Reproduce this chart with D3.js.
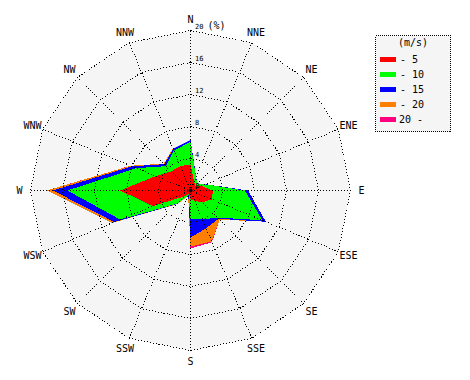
<!DOCTYPE html>
<html><head><meta charset="utf-8">
<script src="https://cdn.jsdelivr.net/npm/d3@7"></script>
<style>
body{margin:0;background:#fff}
svg{display:block}
text{font-family:"DejaVu Sans Mono","Liberation Mono",monospace;fill:#000}
</style>
</head><body>
<svg id="chart" width="470" height="380"></svg>
<script>
// ---- data (frequency %, per speed class) ----
const directions = ["N","NNE","NE","ENE","E","ESE","SE","SSE","S","SSW","SW","WSW","W","WNW","NW","NNW"];
const speedClasses = ["- 5","- 10","- 15","- 20","20 -"];
const classColors = ["#ff0000","#00ff00","#0000ff","#ff8000","#ff0080"];
const upTo5   = [3.25,1.2,0.8,1.5,2.8,2.9,2.1,1.4,1.1,0.5,1.0,5.1,8.8,4.7,3.4,3.3];
const upTo10  = [2.85,0.6,0.4,0.5,4.0,6.8,2.7,2.5,2.4,0.15,1.3,4.4,6.6,2.6,0.9,2.1];
const upTo15  = [0.2,0.05,0,0.05,0.4,0.5,0.2,1.2,2.4,0.05,0.1,0.8,1.8,0.6,0.35,0.2];
const upTo20  = [0.05,0,0,0,0,0,0.15,1.8,1.1,0.05,0.05,0.3,0.75,0.2,0.1,0.1];
const over20  = [0,0,0,0,0,0,0,0.1,0.25,0,0,0,0.05,0,0,0];
const ringTicks = [4,8,12,16,20];
const unitLabel = "(%)";
const legendTitle = "(m/s)";

const series = [upTo5, upTo10, upTo15, upTo20, over20];

// ---- layout ----
const svg = d3.select("#chart");
const cx = 190.5, cy = 190.5, R = 160;
const r = d3.scaleLinear().domain([0, 20]).range([0, R]);
const ang = d3.scaleLinear().domain([0, directions.length]).range([0, 2 * Math.PI]);

const g = svg.append("g").attr("transform", `translate(${cx},${cy})`);

// cumulative stacks
const cumulative = series.map((s, k) => directions.map((d, i) => d3.sum(series.slice(0, k + 1), a => a[i])));

const radial = d3.lineRadial()
  .angle((d, i) => ang(i))
  .radius(d => r(d))
  .curve(d3.curveLinearClosed);

// background
g.append("path")
  .attr("d", radial(directions.map(() => 20)))
  .attr("fill", "#f5f5f5");

// data polygons, outermost first
for (let k = series.length - 1; k >= 0; k--) {
  g.append("path")
    .attr("d", radial(cumulative[k]))
    .attr("fill", classColors[k])
    .attr("stroke", "none")
    .attr("shape-rendering", "crispEdges");
}

// grid rings
ringTicks.forEach(t => {
  g.append("path")
    .attr("d", radial(directions.map(() => t)))
    .attr("fill", "none")
    .attr("stroke", "#000")
    .attr("stroke-width", 1)
    .attr("stroke-dasharray", "1,2")
    .attr("shape-rendering", "crispEdges");
});

// spokes
directions.forEach((d, i) => {
  const a = ang(i);
  g.append("line")
    .attr("x1", 0).attr("y1", 0)
    .attr("x2", r(20) * Math.sin(a))
    .attr("y2", -r(20) * Math.cos(a))
    .attr("stroke", "#000")
    .attr("stroke-width", 1)
    .attr("stroke-dasharray", "1,2")
    .attr("shape-rendering", "crispEdges");
});

// center dot
g.append("circle").attr("r", 2).attr("fill", "#000");

// tick labels
g.append("text").attr("x", 5).attr("y", -3).attr("font-size", 7).text("0");
ringTicks.forEach(t => {
  g.append("text")
    .attr("x", 4.5)
    .attr("y", -r(t) - 2)
    .attr("font-size", 7)
    .text(t);
});
g.append("text").attr("x", 17).attr("y", -r(20) - 2).attr("font-size", 10).text(unitLabel);

// direction labels
directions.forEach((d, i) => {
  const a = ang(i), rr = 171;
  g.append("text")
    .attr("x", rr * Math.sin(a))
    .attr("y", -rr * Math.cos(a))
    .attr("text-anchor", "middle")
    .attr("dominant-baseline", "central")
    .attr("font-size", 10)
    .text(d);
});

// legend
const lg = svg.append("g").attr("transform", "translate(375.5,35.5)");
lg.append("rect")
  .attr("width", 75).attr("height", 96)
  .attr("fill", "#f5f5f5")
  .attr("stroke", "#000")
  .attr("stroke-dasharray", "1,1")
  .attr("shape-rendering", "crispEdges");
lg.append("text").attr("x", 37.5).attr("y", 10).attr("text-anchor", "middle").attr("font-size", 10).text(legendTitle);
speedClasses.forEach((s, k) => {
  lg.append("rect")
    .attr("x", 4.5).attr("y", 21.5 + k * 15)
    .attr("width", 16).attr("height", 5)
    .attr("fill", classColors[k]);
  lg.append("text")
    .attr("x", k === 4 ? 23.5 : 24.5)
    .attr("y", 27 + k * 15)
    .attr("font-size", 10)
    .text(s);
});
</script>
</body></html>
